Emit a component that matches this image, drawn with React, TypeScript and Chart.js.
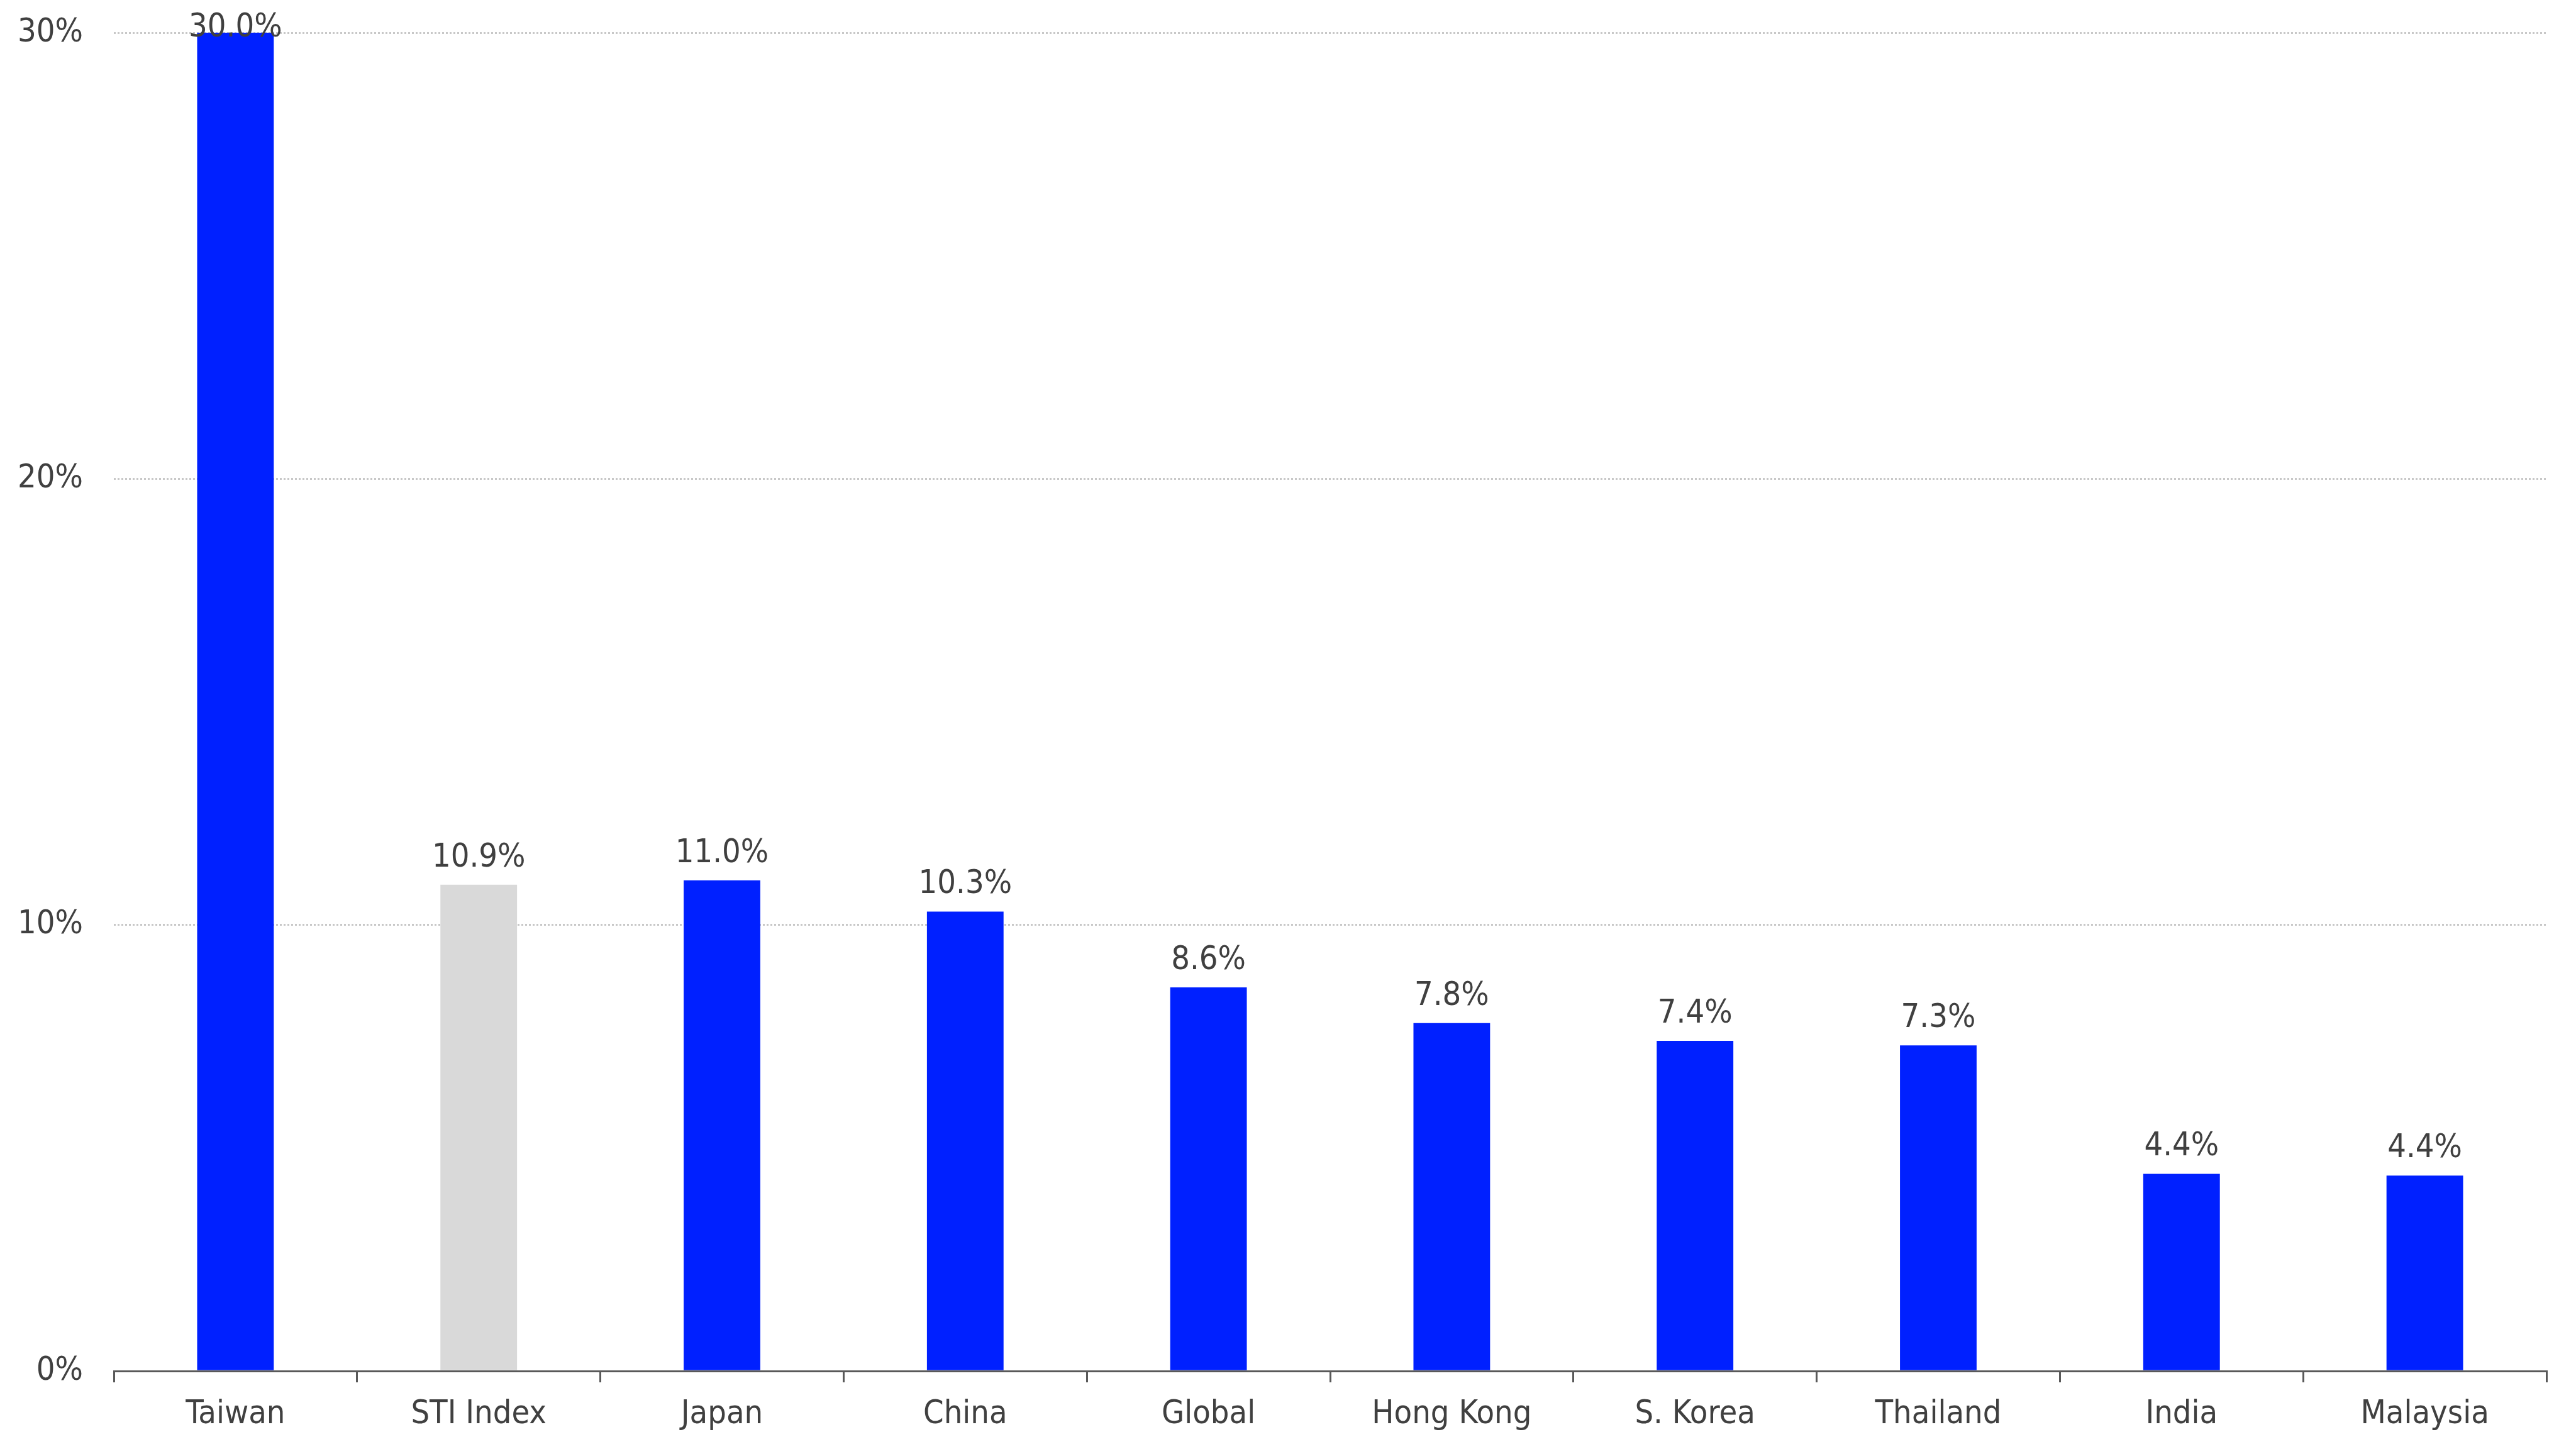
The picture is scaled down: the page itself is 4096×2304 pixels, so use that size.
import React, { useEffect, useRef } from "react";
import { Chart, registerables } from "chart.js";

Chart.register(...registerables);

const categories = ["Taiwan", "STI Index", "Japan", "China", "Global", "Hong Kong", "S. Korea", "Thailand", "India", "Malaysia"];
const returns = [30.0, 10.9, 11.0, 10.3, 8.6, 7.8, 7.4, 7.3, 4.42, 4.38];
const highlight = [false, true, false, false, false, false, false, false, false, false];
const yTicks = [0, 10, 20, 30];

const FONT = "'DejaVu Sans Condensed', 'DejaVu Sans', sans-serif";
const TEXT = "#404040";
const BLUE = "#0020FF";
const GREY = "#D9D9D9";

const valueLabels = {
  id: "valueLabels",
  afterDatasetsDraw(chart: any) {
    const ctx = chart.ctx;
    const meta = chart.getDatasetMeta(0);
    ctx.save();
    ctx.font = `52px ${FONT}`;
    ctx.fillStyle = TEXT;
    ctx.textAlign = "center";
    ctx.textBaseline = "alphabetic";
    meta.data.forEach((bar: any, i: number) => {
      const v = chart.data.datasets[0].data[i] as number;
      const y = Math.max(bar.y - 29, 58);
      ctx.fillText(v.toFixed(1) + "%", bar.x, y);
    });
    ctx.restore();
  },
};

export default function App() {
  const ref = useRef<HTMLCanvasElement>(null);
  useEffect(() => {
    if (!ref.current) return;
    const chart = new Chart(ref.current, {
      type: "bar",
      data: {
        labels: categories,
        datasets: [
          {
            data: returns,
            backgroundColor: highlight.map((h) => (h ? GREY : BLUE)),
            borderWidth: 0,
            barPercentage: 0.315,
            categoryPercentage: 1,
          },
        ],
      },
      options: {
        animation: false,
        responsive: false,
        maintainAspectRatio: false,
        layout: { padding: { left: 0, right: 47, top: 52, bottom: 0 } },
        plugins: { legend: { display: false }, tooltip: { enabled: false } },
        scales: {
          x: {
            afterFit: (s: any) => {
              s.height = 124;
            },
            grid: {
              display: true,
              drawOnChartArea: false,
              drawTicks: true,
              tickLength: 18,
              color: "#595959",
              lineWidth: 3,
              offset: true,
            },
            border: { display: true, color: "#595959", width: 3 },
            ticks: {
              color: TEXT,
              font: { family: FONT, size: 52 },
              padding: 20,
              maxRotation: 0,
              autoSkip: false,
            },
          },
          y: {
            min: 0,
            max: 30,
            afterFit: (s: any) => {
              s.width = 181;
              s.paddingTop = 0;
              s.paddingBottom = 0;
            },
            afterBuildTicks: (s: any) => {
              s.ticks = yTicks.map((v) => ({ value: v }));
            },
            grid: {
              display: true,
              drawTicks: false,
              color: "#C8C8C8",
              lineWidth: 3,
            },
            border: { display: false, dash: [3, 3] },
            ticks: {
              color: TEXT,
              font: { family: FONT, size: 52 },
              padding: 49,
              callback: (v: any) => v + "%",
            },
          },
        },
      },
      plugins: [valueLabels],
    } as any);
    return () => chart.destroy();
  }, []);
  return (
    <div style={{ position: "fixed", left: 0, top: 0, width: 4096, height: 2304, background: "#fff" }}>
      <canvas ref={ref} width={4096} height={2304} style={{ width: 4096, height: 2304 }} />
    </div>
  );
}
